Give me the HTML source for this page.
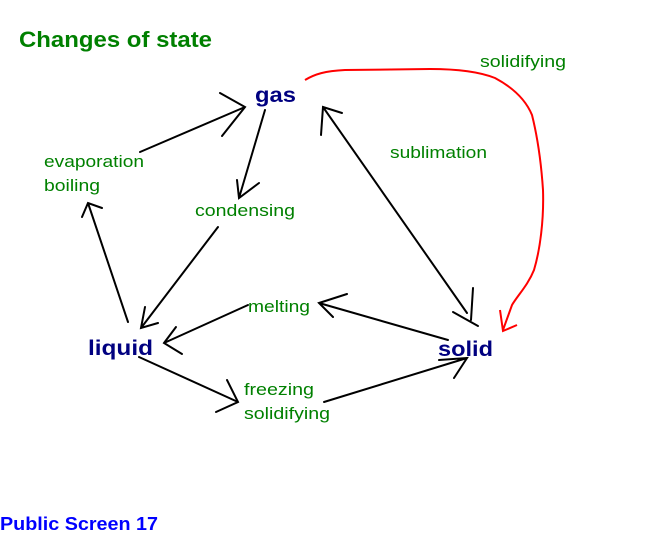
<!DOCTYPE html>
<html><head><style>
body{margin:0;background:#fff;width:651px;height:551px;overflow:hidden}
svg{display:block}
text{font-family:"Liberation Sans",sans-serif}
.g{fill:#008000;font-size:17px}
.n{fill:#000080;font-size:21px;font-weight:bold}
</style></head><body>
<svg width="651" height="551" viewBox="0 0 651 551">
<text x="19" y="47" fill="#008000" font-size="22" font-weight="bold" textLength="193" lengthAdjust="spacingAndGlyphs">Changes of state</text>
<text x="255" y="102" class="n" textLength="41" lengthAdjust="spacingAndGlyphs">gas</text>
<text x="88" y="355" class="n" textLength="65" lengthAdjust="spacingAndGlyphs">liquid</text>
<text x="438" y="356" class="n" textLength="55" lengthAdjust="spacingAndGlyphs">solid</text>
<text x="44" y="167" class="g" textLength="100" lengthAdjust="spacingAndGlyphs">evaporation</text>
<text x="44" y="191" class="g" textLength="56" lengthAdjust="spacingAndGlyphs">boiling</text>
<text x="195" y="216" class="g" textLength="100" lengthAdjust="spacingAndGlyphs">condensing</text>
<text x="390" y="158" class="g" textLength="97" lengthAdjust="spacingAndGlyphs">sublimation</text>
<text x="248" y="312" class="g" textLength="62" lengthAdjust="spacingAndGlyphs">melting</text>
<text x="244" y="395" class="g" textLength="70" lengthAdjust="spacingAndGlyphs">freezing</text>
<text x="244" y="419" class="g" textLength="86" lengthAdjust="spacingAndGlyphs">solidifying</text>
<text x="480" y="67" class="g" textLength="86" lengthAdjust="spacingAndGlyphs">solidifying</text>
<text x="0" y="530" fill="#0000ff" font-size="18" font-weight="bold" textLength="158" lengthAdjust="spacingAndGlyphs">Public Screen 17</text>
<g stroke="#000" stroke-width="2" fill="none" stroke-linecap="round">
<path d="M128 322L88 203M82 217L88 203L102 208"/>
<path d="M140 152L245 107M220 93L245 107L222 136"/>
<path d="M265 110L239 198M237 180L239 198L259 183"/>
<path d="M218 227L141 328M145 307L141 328L158 323"/>
<path d="M467 313L323 107M342 113L323 107L321 135"/>
<path d="M473 288L471 320M453 312L478 326"/>
<path d="M448 340L319 303M347 294L319 303L333 317"/>
<path d="M248 305L164 343M176 327L164 343L182 354"/>
<path d="M139 357L238 402M227 380L238 402L216 412"/>
<path d="M324 402L467 358M439 360L467 358L454 378"/>
</g>
<path d="M305 80C315 74 325 71 345 70L430 69C460 69 480 72 495 78C510 86 525 98 532 115C537 135 541 160 543 190C544 220 540 250 534 270C528 285 518 295 512 305L503 330M500 310L503 331L517 325" stroke="#ff0000" stroke-width="2" fill="none"/>
</svg>
</body></html>
